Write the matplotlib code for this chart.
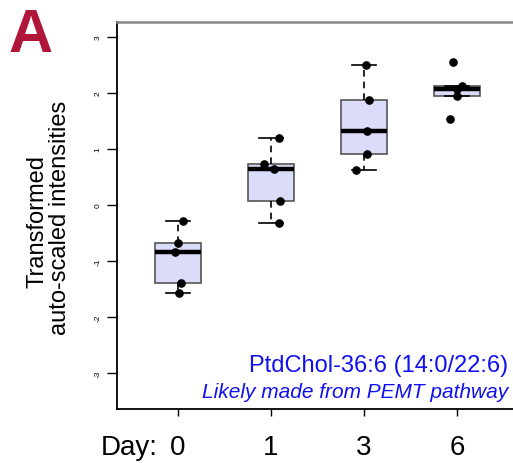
import matplotlib
matplotlib.use("Agg")
import matplotlib.pyplot as plt
import numpy as np

plt.rcParams['font.family'] = ['Liberation Sans', 'DejaVu Sans']

# ---- data ----
days = ['0', '1', '3', '6']
day0 = [-0.29, -0.68, -0.84, -1.39, -1.57]
day1 = [1.20, 0.73, 0.65, 0.07, -0.32]
day3 = [2.50, 1.88, 1.33, 0.91, 0.63]
day6 = [2.55, 2.13, 2.08, 1.95, 1.54]
jitter0 = [0.054, 0.0, -0.032, 0.032, 0.011]
jitter1 = [0.086, -0.075, 0.032, 0.097, 0.086]
jitter3 = [0.02, 0.054, 0.032, 0.032, -0.086]
jitter6 = [-0.043, 0.054, 0.0, 0.0, -0.075]
yticks = [-3, -2, -1, 0, 1, 2, 3]

groups = [day0, day1, day3, day6]
jitters = [jitter0, jitter1, jitter3, jitter6]

fig = plt.figure(figsize=(5.13, 4.64), dpi=100)
ax = fig.add_axes([117/513, 54/464, 401/513, 387/464])

positions = np.arange(1, len(groups) + 1)
bp = ax.boxplot(groups, positions=positions, widths=0.5, patch_artist=True,
                showfliers=False, whis=1.5,
                boxprops=dict(facecolor='#DBDBFA', edgecolor='#555555', linewidth=1.2),
                medianprops=dict(color='black', linewidth=3.2, solid_capstyle='butt'),
                whiskerprops=dict(color='black', linewidth=1.2, linestyle=(0, (4, 3))),
                capprops=dict(color='black', linewidth=1.2),
                capwidths=0.25)

for pos, g, j in zip(positions, groups, jitters):
    ax.plot(pos + np.array(j), g, 'o', color='black', markersize=5.2, zorder=5)

ax.set_xlim(0.344, 4.656)
ax.set_ylim(-3.643, 3.268)

ax.set_xticks(positions)
ax.set_xticklabels(days, fontsize=20)
ax.tick_params(axis='x', length=5, width=1, pad=13)
ax.set_yticks(yticks)
ax.set_yticklabels([str(t) for t in yticks], fontsize=6, rotation=90, va='center')
ax.tick_params(axis='y', length=7, width=1, pad=4)

ax.annotate('Day:', xy=(1, 0), xycoords=('data', 'axes fraction'),
            xytext=(-20, -25), textcoords='offset pixels', ha='right', va='top', fontsize=20)

for s in ['left', 'bottom']:
    ax.spines[s].set_color('black')
    ax.spines[s].set_linewidth(1.3)
ax.spines['top'].set_color('#888888')
ax.spines['top'].set_linewidth(1.8)
ax.spines['right'].set_visible(False)

fig.text(37/513, 1 - 222/464, 'Transformed', rotation=90, ha='center', va='center', fontsize=17)
fig.text(60/513, 1 - 218/464, 'auto-scaled intensities', rotation=90, ha='center', va='center', fontsize=17)

fig.text(8/513, 1 - 52/464, 'A', color='#B0153A', fontsize=44, fontweight='bold', ha='left', va='baseline')

fig.text(508/513, 1 - 372/464, 'PtdChol-36:6 (14:0/22:6)', color='#1010F0', fontsize=17,
         ha='right', va='baseline')
fig.text(508/513, 1 - 398/464, 'Likely made from PEMT pathway', color='#1010F0', fontsize=15,
         style='italic', ha='right', va='baseline')

fig.savefig('out.png', dpi=100)
